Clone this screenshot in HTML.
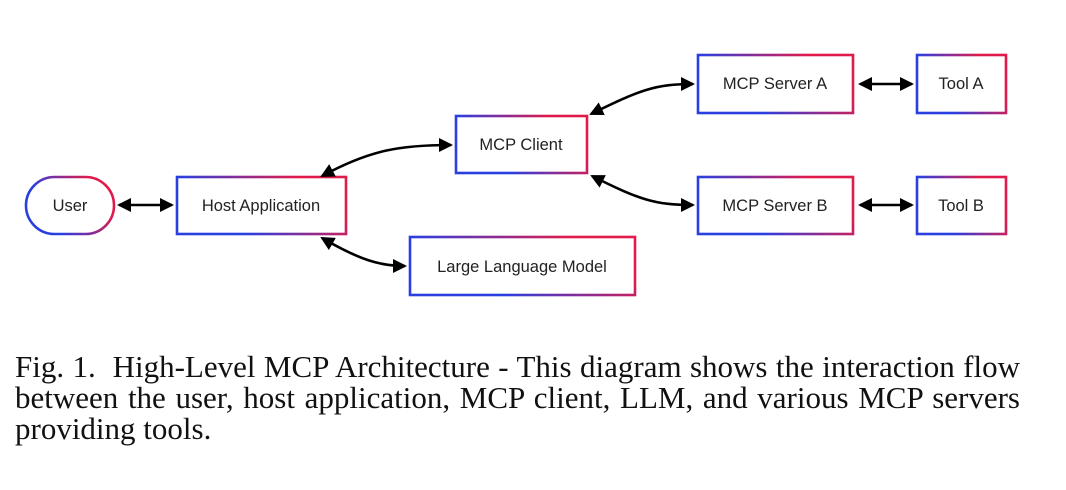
<!DOCTYPE html>
<html><head><meta charset="utf-8"><style>
body{margin:0;background:#fff;width:1066px;height:490px;overflow:hidden;position:relative}
svg{position:absolute;left:0;top:0}
.cap{position:absolute;left:15px;top:351px;width:1005px;font-family:"Liberation Serif",serif;font-size:31px;line-height:31px;color:#111;text-align:justify}
</style></head><body>
<svg width="1066" height="330" viewBox="0 0 1066 330">
<defs>
<linearGradient id="g" x1="0" y1="0.7" x2="1" y2="0.3"><stop offset="0" stop-color="#2a3fe0"/><stop offset="0.25" stop-color="#2a3fe0"/><stop offset="0.85" stop-color="#e01b4c"/><stop offset="1" stop-color="#e01b4c"/></linearGradient>
<marker id="b" markerWidth="14" markerHeight="14" refX="12" refY="7" orient="auto-start-reverse" markerUnits="userSpaceOnUse" viewBox="0 0 14 14"><path d="M0,0 L14,7 L0,14 z" fill="#000"/></marker>
</defs>
<g fill="#fff" stroke="url(#g)" stroke-width="2.6">
<rect x="26" y="177" width="88" height="57" rx="28.5"/>
<rect x="177" y="177" width="169" height="57"/>
<rect x="456" y="116" width="131" height="57"/>
<rect x="698" y="55" width="155" height="58"/>
<rect x="917" y="55" width="89" height="58"/>
<rect x="698" y="177" width="155" height="57"/>
<rect x="917" y="177" width="89" height="57"/>
<rect x="410" y="237" width="225" height="58"/>
</g>
<g font-family="Liberation Sans, sans-serif" font-size="16.5" fill="#222" text-anchor="middle">
<text x="70" y="211">User</text>
<text x="261" y="211">Host Application</text>
<text x="521" y="150">MCP Client</text>
<text x="775" y="89">MCP Server A</text>
<text x="961" y="89">Tool A</text>
<text x="775" y="211">MCP Server B</text>
<text x="961" y="211">Tool B</text>
<text x="522" y="272">Large Language Model</text>
</g>
<g fill="none" stroke="#000" stroke-width="2.6" marker-start="url(#b)" marker-end="url(#b)">
<path d="M119,205 L172,205"/>
<path d="M860,84 L912,84"/>
<path d="M860,205 L912,205"/>
<path d="M322,176 C370,150 400,145 451,145"/>
<path d="M591,114 C640,90 655,84 693,84"/>
<path d="M592,176 C640,200 655,205 693,205"/>
<path d="M322,238 C360,260 380,266 405,266"/>
</g>
</svg>
<div class="cap">Fig. 1.&nbsp; High-Level MCP Architecture - This diagram shows the interaction flow between the user, host application, MCP client, LLM, and various MCP servers providing tools.</div>
</body></html>
